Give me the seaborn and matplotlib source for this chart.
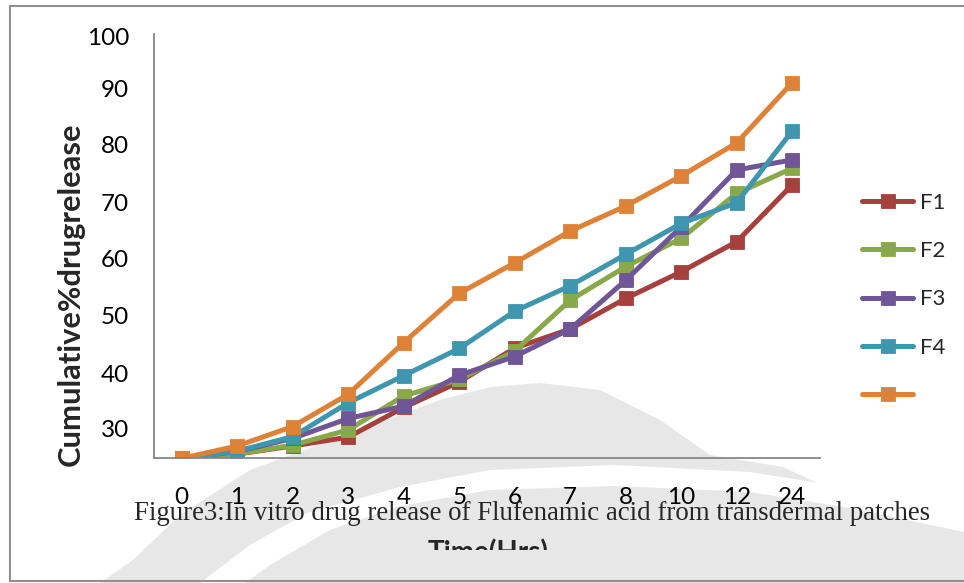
import matplotlib
matplotlib.use("Agg")
import matplotlib.pyplot as plt
from matplotlib.lines import Line2D
from matplotlib.patches import Polygon
from matplotlib.transforms import Bbox, TransformedBbox
import numpy as np
import pandas as pd
import seaborn as sns

# Sampling times (hours) and cumulative % drug release per formulation
time_labels = ["0", "1", "2", "3", "4", "5", "6", "7", "8", "10", "12", "24"]
f1 = [0, 1.0, 2.9, 5.0, 12.0, 18.0, 26.0, 30.5, 37.7, 44.0, 51.1, 64.5]
f2 = [0, 1.0, 3.1, 6.7, 14.7, 18.6, 25.3, 37.3, 45.2, 51.9, 62.5, 68.4]
f3 = [0, 1.6, 4.7, 9.4, 12.3, 19.6, 24.0, 30.5, 42.0, 54.6, 68.0, 70.4]
f4 = [0, 1.7, 5.1, 13.1, 19.5, 25.9, 34.7, 40.7, 48.1, 55.4, 60.3, 77.2]
f5 = [0, 2.9, 7.5, 15.1, 27.3, 38.9, 46.1, 53.6, 59.5, 66.6, 74.4, 88.6]
series_names = ["F1", "F2", "F3", "F4", " "]
series_values = [f1, f2, f3, f4, f5]
series_colors = ["#A6403D", "#88A84A", "#705696", "#3E96AF", "#DE8238"]

ytick_labels = ["100", "90", "80", "70", "60", "50", "40", "30"]
ytick_pos = [99.4, 87.3, 73.9, 60.4, 47.2, 33.6, 20.1, 7.1]

caption = "Figure3:In vitro drug release of Flufenamic acid from transdermal patches"

sns.set_style("white")
plt.rcParams["font.family"] = ["Lato", "DejaVu Sans"]

W, H = 964, 583
fig = plt.figure(figsize=(W / 100, H / 100), dpi=100)


def fx(x):
    return x / W


def fy(y):
    return 1 - y / H


def to_fig(points):
    return [(fx(x), fy(y)) for x, y in points]


# faint background emblem
outer = [(100, 583), (133, 560), (180, 515), (250, 470), (340, 437), (440, 400),
         (490, 387), (540, 383), (600, 390), (660, 420), (710, 455), (783, 467),
         (833, 490), (880, 505), (930, 520), (964, 530), (964, 583)]
band = [(200, 583), (250, 545), (307, 513), (400, 487), (490, 470), (615, 465),
        (750, 472), (850, 488), (964, 512), (964, 532), (850, 508), (750, 492),
        (615, 486), (490, 490), (400, 506), (330, 530), (270, 565), (245, 583)]
fig.add_artist(Polygon(to_fig(outer), closed=True, transform=fig.transFigure,
                       facecolor="#e7e7e7", edgecolor="none", zorder=-2))
fig.add_artist(Polygon(to_fig(band), closed=True, transform=fig.transFigure,
                       facecolor="white", edgecolor="none", zorder=-1))

ax = fig.add_axes([fx(154), fy(458.3), (820 - 154) / W, (458.3 - 34.3) / H])
ax.set_facecolor("none")

for name, vals, col in zip(series_names, series_values, series_colors):
    df = pd.DataFrame({"Time": time_labels, "Release": vals})
    sns.lineplot(data=df, x="Time", y="Release", ax=ax, color=col, label=name,
                 marker="s", markersize=10.5, linewidth=3.6, markeredgecolor=col,
                 markeredgewidth=0.6, sort=False, errorbar=None)

ax.set_xlim(-0.5, len(time_labels) - 0.5)
ax.set_ylim(0, 100)
ax.set_xlabel("")
ax.set_ylabel("")

ax.set_xticks(range(len(time_labels)))
ax.set_xticklabels(time_labels)
ax.set_xticks(np.arange(-0.5, len(time_labels), 1), minor=True)
ax.set_yticks(ytick_pos)
ax.set_yticklabels(ytick_labels)
ax.set_yticks(np.arange(0, 101, 10), minor=True)

axis_gray = "#878787"
ax.tick_params(which="major", length=0, labelsize=17.5, labelcolor="black")
ax.tick_params(axis="y", which="major", pad=18)
ax.tick_params(axis="x", which="major", pad=21)
ax.tick_params(which="minor", length=5, width=1.3, color=axis_gray, direction="out")
for side in ["top", "right"]:
    ax.spines[side].set_visible(False)
for side in ["left", "bottom"]:
    ax.spines[side].set_color(axis_gray)
    ax.spines[side].set_linewidth(1.3)

leg = ax.legend(loc="upper left", bbox_to_anchor=(fx(862), fy(193)),
                bbox_transform=fig.transFigure, frameon=False, fontsize=16,
                handlelength=2.3, handletextpad=0.3, labelspacing=1.27,
                borderpad=0, borderaxespad=0)

fig.text(fx(71), fy(294), "Cumulative%drugrelease", rotation=90, weight="bold",
         fontsize=22.2, ha="center", va="center")

fig.text(fx(532), fy(520), caption, family=["Liberation Serif", "DejaVu Serif"],
         fontsize=19.4, ha="center", va="baseline")

xlab = fig.text(fx(488), fy(539), "Time(Hrs)", weight="bold", fontsize=20,
                ha="center", va="top")
xlab.set_clip_box(TransformedBbox(Bbox([[0, fy(550)], [1, 1]]), fig.transFigure))
xlab.set_clip_on(True)

frame_col = "#8f8f8f"
fig.add_artist(Line2D([fx(9.5), fx(9.5)], [fy(5.5), fy(581)], transform=fig.transFigure,
                      color=frame_col, lw=1.5))
fig.add_artist(Line2D([fx(9.5), 1], [fy(5.5), fy(5.5)], transform=fig.transFigure,
                      color=frame_col, lw=1.5))
fig.add_artist(Line2D([fx(9.5), 1], [fy(581), fy(581)], transform=fig.transFigure,
                      color=frame_col, lw=1.5))

fig.savefig("out.png", dpi=100, facecolor="white")
